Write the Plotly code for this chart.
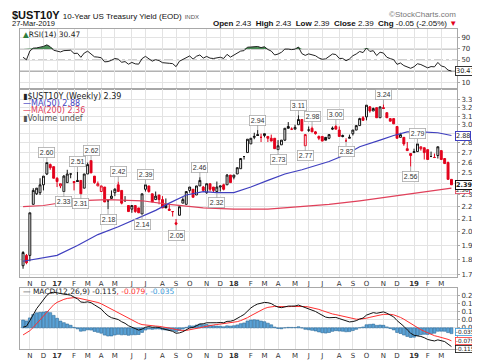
import numpy as np
import pandas as pd
import plotly.graph_objects as go

# ---------------- data (weekly bars, week starting Mondays) ----------------
first_week = "2016-10-24"

opens = [1.76, 1.83, 1.83, 2.22, 2.31, 2.32, 2.39, 2.49, 2.58, 2.56,
         2.45, 2.38, 2.33, 2.41, 2.49, 2.42, 2.43, 2.43, 2.36, 2.49,
         2.62, 2.47, 2.38, 2.33, 2.37, 2.25, 2.27, 2.32, 2.39, 2.34,
         2.25, 2.21, 2.18, 2.21, 2.19, 2.14, 2.35, 2.38, 2.31, 2.26,
         2.30, 2.26, 2.22, 2.18, 2.16, 2.07, 2.13, 2.23, 2.22, 2.34,
         2.35, 2.30, 2.38, 2.37, 2.32, 2.40, 2.37, 2.33, 2.37, 2.39,
         2.39, 2.48, 2.46, 2.49, 2.54, 2.66, 2.70, 2.79, 2.86, 2.89,
         2.86, 2.88, 2.87, 2.85, 2.85, 2.73, 2.78, 2.83, 2.98, 2.95,
         2.95, 3.00, 3.06, 2.77, 2.94, 2.96, 2.92, 2.87, 2.87, 2.86,
         2.85, 2.95, 2.98, 2.94, 2.88, 2.82, 2.85, 2.90, 2.94, 2.99,
         3.08, 3.09, 3.21, 3.16, 3.20, 3.08, 3.20, 3.14, 3.07, 3.07,
         2.98, 2.86, 2.86, 2.74, 2.69, 2.70, 2.71, 2.74, 2.75, 2.73,
         2.66, 2.65, 2.67, 2.72, 2.64, 2.60, 2.44]
highs = [1.86, 1.84, 2.15, 2.36, 2.36, 2.45, 2.47, 2.60, 2.59, 2.56,
         2.46, 2.40, 2.48, 2.53, 2.49, 2.42, 2.51, 2.43, 2.49, 2.60,
         2.62, 2.47, 2.42, 2.38, 2.37, 2.25, 2.34, 2.36, 2.42, 2.34,
         2.29, 2.21, 2.21, 2.21, 2.19, 2.31, 2.39, 2.38, 2.31, 2.33,
         2.30, 2.29, 2.27, 2.22, 2.16, 2.10, 2.20, 2.28, 2.33, 2.37,
         2.35, 2.38, 2.46, 2.38, 2.40, 2.40, 2.37, 2.42, 2.38, 2.40,
         2.49, 2.48, 2.48, 2.55, 2.64, 2.66, 2.84, 2.85, 2.91, 2.94,
         2.90, 2.90, 2.87, 2.89, 2.85, 2.83, 2.83, 2.96, 3.03, 2.97,
         3.00, 3.11, 3.06, 2.89, 2.98, 2.98, 2.93, 2.88, 2.87, 2.86,
         2.89, 2.98, 3.00, 2.98, 2.89, 2.85, 2.89, 2.94, 2.99, 3.08,
         3.10, 3.23, 3.22, 3.20, 3.20, 3.21, 3.24, 3.14, 3.07, 3.07,
         2.98, 2.91, 2.86, 2.81, 2.69, 2.74, 2.79, 2.76, 2.75, 2.73,
         2.71, 2.69, 2.76, 2.72, 2.64, 2.61, 2.44]
lows = [1.74, 1.77, 1.79, 2.22, 2.30, 2.30, 2.34, 2.48, 2.53, 2.45,
        2.37, 2.36, 2.33, 2.41, 2.45, 2.34, 2.42, 2.31, 2.36, 2.49,
        2.50, 2.40, 2.38, 2.33, 2.24, 2.18, 2.27, 2.29, 2.33, 2.22,
        2.25, 2.16, 2.15, 2.15, 2.15, 2.14, 2.33, 2.32, 2.24, 2.26,
        2.22, 2.19, 2.19, 2.17, 2.12, 2.05, 2.13, 2.23, 2.22, 2.32,
        2.28, 2.30, 2.38, 2.34, 2.31, 2.33, 2.32, 2.32, 2.33, 2.34,
        2.39, 2.41, 2.44, 2.49, 2.54, 2.63, 2.70, 2.79, 2.84, 2.88,
        2.81, 2.86, 2.81, 2.82, 2.74, 2.73, 2.78, 2.82, 2.96, 2.94,
        2.95, 3.00, 2.93, 2.77, 2.92, 2.92, 2.89, 2.83, 2.82, 2.83,
        2.84, 2.94, 2.95, 2.87, 2.86, 2.82, 2.85, 2.88, 2.94, 2.99,
        3.05, 3.05, 3.14, 3.16, 3.08, 3.08, 3.19, 3.08, 3.04, 3.01,
        2.85, 2.86, 2.77, 2.72, 2.56, 2.70, 2.71, 2.72, 2.63, 2.63,
        2.66, 2.65, 2.64, 2.63, 2.59, 2.44, 2.39]
closes = [1.85, 1.78, 2.15, 2.34, 2.36, 2.39, 2.47, 2.60, 2.55, 2.45,
          2.42, 2.40, 2.47, 2.49, 2.49, 2.41, 2.42, 2.31, 2.49, 2.58,
          2.50, 2.41, 2.40, 2.38, 2.24, 2.25, 2.29, 2.35, 2.33, 2.23,
          2.25, 2.16, 2.21, 2.16, 2.15, 2.31, 2.39, 2.33, 2.24, 2.29,
          2.26, 2.19, 2.19, 2.17, 2.16, 2.06, 2.20, 2.26, 2.33, 2.37,
          2.28, 2.38, 2.43, 2.34, 2.40, 2.35, 2.34, 2.37, 2.38, 2.35,
          2.48, 2.41, 2.48, 2.55, 2.64, 2.66, 2.84, 2.85, 2.87, 2.88,
          2.86, 2.90, 2.85, 2.82, 2.74, 2.77, 2.83, 2.96, 2.96, 2.95,
          2.97, 3.06, 2.93, 2.89, 2.94, 2.92, 2.90, 2.85, 2.82, 2.83,
          2.89, 2.96, 2.95, 2.87, 2.87, 2.82, 2.86, 2.94, 2.99, 3.07,
          3.05, 3.23, 3.16, 3.19, 3.08, 3.21, 3.19, 3.08, 3.04, 3.01,
          2.85, 2.89, 2.79, 2.72, 2.67, 2.71, 2.79, 2.76, 2.70, 2.63,
          2.66, 2.65, 2.76, 2.63, 2.59, 2.44, 2.39]

# moving averages (bar index -> value)
ma50_bars = [0, 10, 16, 22, 28, 34, 39, 43, 48, 53, 57, 62, 67, 72, 77, 82, 87, 90, 95, 99, 105, 109, 113, 117, 122, 126]
ma50_vals = [1.79, 1.83, 1.90, 1.98, 2.04, 2.11, 2.17, 2.23, 2.30, 2.33, 2.32, 2.32, 2.37, 2.43, 2.49, 2.53, 2.58, 2.61, 2.68, 2.76, 2.83, 2.88, 2.92, 2.92, 2.91, 2.88]
ma200_bars = [0, 6, 15, 25, 35, 43, 53, 62, 72, 82, 90, 99, 109, 119, 126]
ma200_vals = [2.20, 2.21, 2.25, 2.26, 2.25, 2.22, 2.19, 2.18, 2.18, 2.20, 2.22, 2.25, 2.29, 2.33, 2.36]

rsi_seed_gain, rsi_seed_loss = 0.033, 0.027
ema12_seed, ema26_seed, signal_seed = 1.68, 1.69, -0.055

# swing labels (bar index, value, side)
lab_bars = [7, 12, 16, 17, 20, 25, 28, 35, 36, 45, 52, 57, 69, 75, 81, 83, 85, 92, 95, 106, 114, 116]
lab_vals = [2.60, 2.33, 2.51, 2.31, 2.62, 2.18, 2.42, 2.14, 2.39, 2.05, 2.46, 2.32, 2.94, 2.73, 3.11, 2.77, 2.98, 3.00, 2.82, 3.24, 2.56, 2.79]
lab_side = ['up', 'dn', 'up', 'dn', 'up', 'dn', 'up', 'dn', 'up', 'dn', 'up', 'dn', 'up', 'dn', 'up', 'dn', 'up', 'up', 'dn', 'up', 'dn', 'up']

rsi_last, ma50_last, ma200_last, close_last = "30.47", "2.88", "2.36", "2.39"
macd_last, sig_last, hist_last = "-0.115", "-0.079", "-0.035"
price_ticks = [1.7, 1.8, 1.9, 2.0, 2.1, 2.2, 2.3, 2.4, 2.5, 2.6, 2.7, 2.8, 2.9, 3.0, 3.1, 3.2, 3.3]
price_hidden = [2.4, 2.9]          # tick labels covered by value boxes in the chart
rsi_ticks = [10, 50, 70, 90]
macd_ticks = [0.0, 0.05, 0.10, 0.15, 0.20]

# ---------------- derived ----------------
dates = pd.date_range(first_week, periods=len(closes), freq="7D")
o, h, l, c = map(np.array, (opens, highs, lows, closes))
n = len(c)

ag, al = rsi_seed_gain, rsi_seed_loss
rsi = [100 - 100 / (1 + ag / al)]
for i in range(1, n):
    ch = c[i] - c[i - 1]
    ag = (ag * 13 + max(ch, 0)) / 14
    al = (al * 13 + max(-ch, 0)) / 14
    rsi.append(100 - 100 / (1 + ag / al))
rsi = np.array(rsi)

e12, e26, sg = ema12_seed, ema26_seed, signal_seed
macd, sig = [], []
for v in c:
    e12 += 2 / 13 * (v - e12)
    e26 += 2 / 27 * (v - e26)
    m = e12 - e26
    sg += 0.2 * (m - sg)
    macd.append(m)
    sig.append(sg)
macd, sig = np.array(macd), np.array(sig)
hist = macd - sig

prev = np.concatenate([[o[0]], c[:-1]])
hollow = c >= o
redc = c < prev

FONT = "DejaVu Sans"
ARIAL = "Liberation Sans"
GRID = "#e3e3e3"
AXC = "#a8a8a8"
RED = "#e3001b"
BLUE = "#3f3fbf"
PINK = "#e0405a"

fig = go.Figure()

# RSI panel
fig.add_trace(go.Scatter(x=dates, y=[70] * n, mode="lines", line=dict(width=0),
                         hoverinfo="skip", xaxis="x", yaxis="y"))
fig.add_trace(go.Scatter(x=dates, y=np.maximum(rsi, 70), mode="lines", line=dict(width=0),
                         fill="tonexty", fillcolor="rgba(46,125,60,0.85)", hoverinfo="skip",
                         xaxis="x", yaxis="y"))
fig.add_trace(go.Scatter(x=dates, y=rsi, mode="lines", line=dict(color="#222", width=1),
                         xaxis="x", yaxis="y"))

# candles
for hol in (True, False):
    for isred in (False, True):
        mask = (hollow == hol) & (redc == isred)
        if not mask.any():
            continue
        col = RED if isred else "#111"
        fill = "white" if hol else col
        style = dict(line=dict(color=col, width=1), fillcolor=fill)
        fig.add_trace(go.Candlestick(x=dates[mask], open=o[mask], high=h[mask], low=l[mask],
                                     close=c[mask], increasing=style, decreasing=style,
                                     whiskerwidth=0, xaxis="x2", yaxis="y2"))

fig.add_trace(go.Scatter(x=dates[ma200_bars], y=ma200_vals, mode="lines",
                         line=dict(color=PINK, width=1.2), xaxis="x2", yaxis="y2"))
fig.add_trace(go.Scatter(x=dates[ma50_bars], y=ma50_vals, mode="lines",
                         line=dict(color=BLUE, width=1.2), xaxis="x2", yaxis="y2"))

# MACD panel
fig.add_trace(go.Bar(x=dates, y=hist, width=7 * 86400000 * 0.85,
                     marker=dict(color="#5aa2d6", line=dict(color="#2b6a98", width=0.6)),
                     xaxis="x3", yaxis="y3"))
fig.add_trace(go.Scatter(x=dates, y=sig, mode="lines", line=dict(color="#ff3030", width=1),
                         xaxis="x3", yaxis="y3"))
fig.add_trace(go.Scatter(x=dates, y=macd, mode="lines", line=dict(color="#111", width=1),
                         xaxis="x3", yaxis="y3"))

# x ticks at first bar of each month
tickvals, ticktext = [], []
for i in range(1, n):
    if dates[i].month != dates[i - 1].month:
        tickvals.append(dates[i])
        ticktext.append(f"<b>{dates[i]:%y}</b>" if dates[i].month == 1 else "JFMAMJJASOND"[dates[i].month - 1])

xr = ["2016-10-17 17:00", "2019-04-05 10:00"]
xcommon = dict(type="date", range=xr, showgrid=True, gridcolor=GRID, gridwidth=1,
               tickvals=tickvals, ticktext=ticktext, showline=True, mirror=True,
               linecolor=AXC, linewidth=1, ticks="", zeroline=False,
               tickfont=dict(family=FONT, size=7, color="#333"),
               rangeslider=dict(visible=False), fixedrange=True)
ycommon = dict(side="right", showgrid=True, gridcolor=GRID, gridwidth=1, showline=True,
               mirror=True, linecolor=AXC, linewidth=1, ticks="outside", ticklen=2,
               tickcolor=AXC, zeroline=False, tickfont=dict(family=FONT, size=7, color="#333"),
               fixedrange=True)

fig.update_layout(
    width=480, height=363, margin=dict(l=11, r=30, t=21, b=14),
    paper_bgcolor="white", plot_bgcolor="white", showlegend=False,
    boxgap=0.2, bargap=0.1, hovermode=False,
    xaxis=dict(xcommon, anchor="y", showticklabels=False),
    xaxis2=dict(xcommon, anchor="y2"),
    xaxis3=dict(xcommon, anchor="y3"),
    yaxis=dict(ycommon, domain=[0.814, 1.0], range=[-1.2, 105.8], tickvals=rsi_ticks,
               ticktext=[str(t) for t in rsi_ticks], anchor="x"),
    yaxis2=dict(ycommon, domain=[0.2256, 0.811], type="log", range=[0.2273, 0.535],
                tickvals=price_ticks,
                ticktext=["" if t in price_hidden else f"{t:.1f}" for t in price_ticks], anchor="x2"),
    yaxis3=dict(ycommon, domain=[0.0, 0.192], range=[-0.129, 0.246], tickvals=macd_ticks,
                ticktext=[f"{t:.2f}" for t in macd_ticks], anchor="x3"),
)

# RSI reference lines
for yv, dash, colr in ((70, "solid", "#8a8a8a"), (30, "solid", "#8a8a8a"), (50, "dashdot", "#9a9a9a")):
    fig.add_shape(type="line", xref="x domain", yref="y", x0=0, x1=1, y0=yv, y1=yv,
                  line=dict(color=colr, width=1, dash=dash), layer="below")

ann = []
def px_x(p):
    return (p - 11) / 439
def px_y(p):
    return (349 - p) / 328

# header
ann.append(dict(xref="paper", yref="paper", x=px_x(1), y=px_y(7), xanchor="left", yanchor="middle",
                showarrow=False,
                text="<b>$UST10Y</b> <span style='font-size:8px'>10-Year US Treasury Yield (EOD)</span>"
                     " <span style='font-size:6px;color:#555'>INDX</span>",
                font=dict(family=ARIAL, size=11, color="#111")))
ann.append(dict(xref="paper", yref="paper", x=px_x(451), y=px_y(6), xanchor="right", yanchor="middle",
                showarrow=False, text="\u00a9StockCharts.com",
                font=dict(family=ARIAL, size=8, color="#777")))
ann.append(dict(xref="paper", yref="paper", x=px_x(1), y=px_y(15.5), xanchor="left", yanchor="middle",
                showarrow=False, text="27-Mar-2019", font=dict(family=ARIAL, size=7.5, color="#111")))
ann.append(dict(xref="paper", yref="paper", x=px_x(452), y=px_y(15.5), xanchor="right", yanchor="middle",
                showarrow=False,
                text="<b>Open</b> 2.43  <b>High</b> 2.43  <b>Low</b> 2.39  <b>Close</b> 2.39  "
                     "<b>Chg</b> -0.05 (-2.05%) <span style='color:#e3001b'>\u25bc</span>",
                font=dict(family=ARIAL, size=8, color="#111")))

# panel legends
ann.append(dict(xref="paper", yref="paper", x=px_x(12.5), y=px_y(26.5), xanchor="left", yanchor="middle",
                showarrow=False,
                text="<span style='color:#2e7d3c'>\u25b2</span>RSI(14) 30.47",
                font=dict(family=FONT, size=7.5, color="#222")))
ann.append(dict(xref="paper", yref="paper", x=px_x(12.5), y=px_y(90), xanchor="left", yanchor="middle",
                showarrow=False, text="\u25ae$UST10Y (Weekly) 2.39",
                font=dict(family=FONT, size=8, color="#222")))
ann.append(dict(xref="paper", yref="paper", x=px_x(12.5), y=px_y(97.5), xanchor="left", yanchor="middle",
                showarrow=False, text="\u2014MA(50) 2.88", font=dict(family=FONT, size=8, color=BLUE)))
ann.append(dict(xref="paper", yref="paper", x=px_x(12.5), y=px_y(105), xanchor="left", yanchor="middle",
                showarrow=False, text="\u2014MA(200) 2.36", font=dict(family=FONT, size=8, color=PINK)))
ann.append(dict(xref="paper", yref="paper", x=px_x(12.5), y=px_y(112.5), xanchor="left", yanchor="middle",
                showarrow=False, text="\u25aeVolume undef", font=dict(family=FONT, size=8, color="#555")))
ann.append(dict(xref="paper", yref="paper", x=px_x(12.5), y=px_y(290.5), xanchor="left", yanchor="middle",
                showarrow=False,
                text="\u2014 MACD(12,26,9) -0.115<span style='color:#ff3030'>, -0.079</span>"
                     "<span style='color:#3a9ad9'>, -0.035</span>",
                font=dict(family=FONT, size=7.5, color="#222")))

# swing labels
for b, v, s in zip(lab_bars, lab_vals, lab_side):
    ann.append(dict(xref="x2", yref="y2", x=dates[b], y=np.log10(v), text=f"{v:.2f}",
                    showarrow=True, arrowhead=0, arrowwidth=0.8, arrowcolor="#999", ax=0,
                    ay=-10 if s == "up" else 10, standoff=0, bgcolor="white",
                    bordercolor="#aaa", borderwidth=0.8, borderpad=1,
                    font=dict(family=ARIAL, size=7, color="#333")))

# right-edge value boxes
def vbox(yref, yv, txt, col, yshift=0, bold=False, size=6.5, bw=1):
    ann.append(dict(xref="paper", yref=yref, x=1.0, y=yv, xanchor="left", yanchor="middle",
                    xshift=-2, yshift=yshift, showarrow=False,
                    text=f"<b>{txt}</b>" if bold else txt, bgcolor="white", bordercolor=col,
                    borderwidth=bw, borderpad=0, font=dict(family=FONT, size=size, color="#222")))

vbox("y", float(rsi_last), rsi_last, "#333")
vbox("y2", np.log10(float(ma50_last)), ma50_last, BLUE)
vbox("y2", np.log10(float(ma200_last)), ma200_last, PINK, yshift=-2, size=5.8, bw=0.8)
vbox("y2", np.log10(float(close_last)), close_last, "#111", bold=True)
vbox("y3", float(hist_last), hist_last, "#3a9ad9", yshift=2, size=5.8, bw=0.8)
vbox("y3", float(sig_last), sig_last, "#ff3030", size=5.8, bw=0.8)
vbox("y3", float(macd_last), macd_last, "#111", yshift=-2, size=5.8, bw=0.8)

fig.update_layout(annotations=ann)
fig.write_html("out.html")
